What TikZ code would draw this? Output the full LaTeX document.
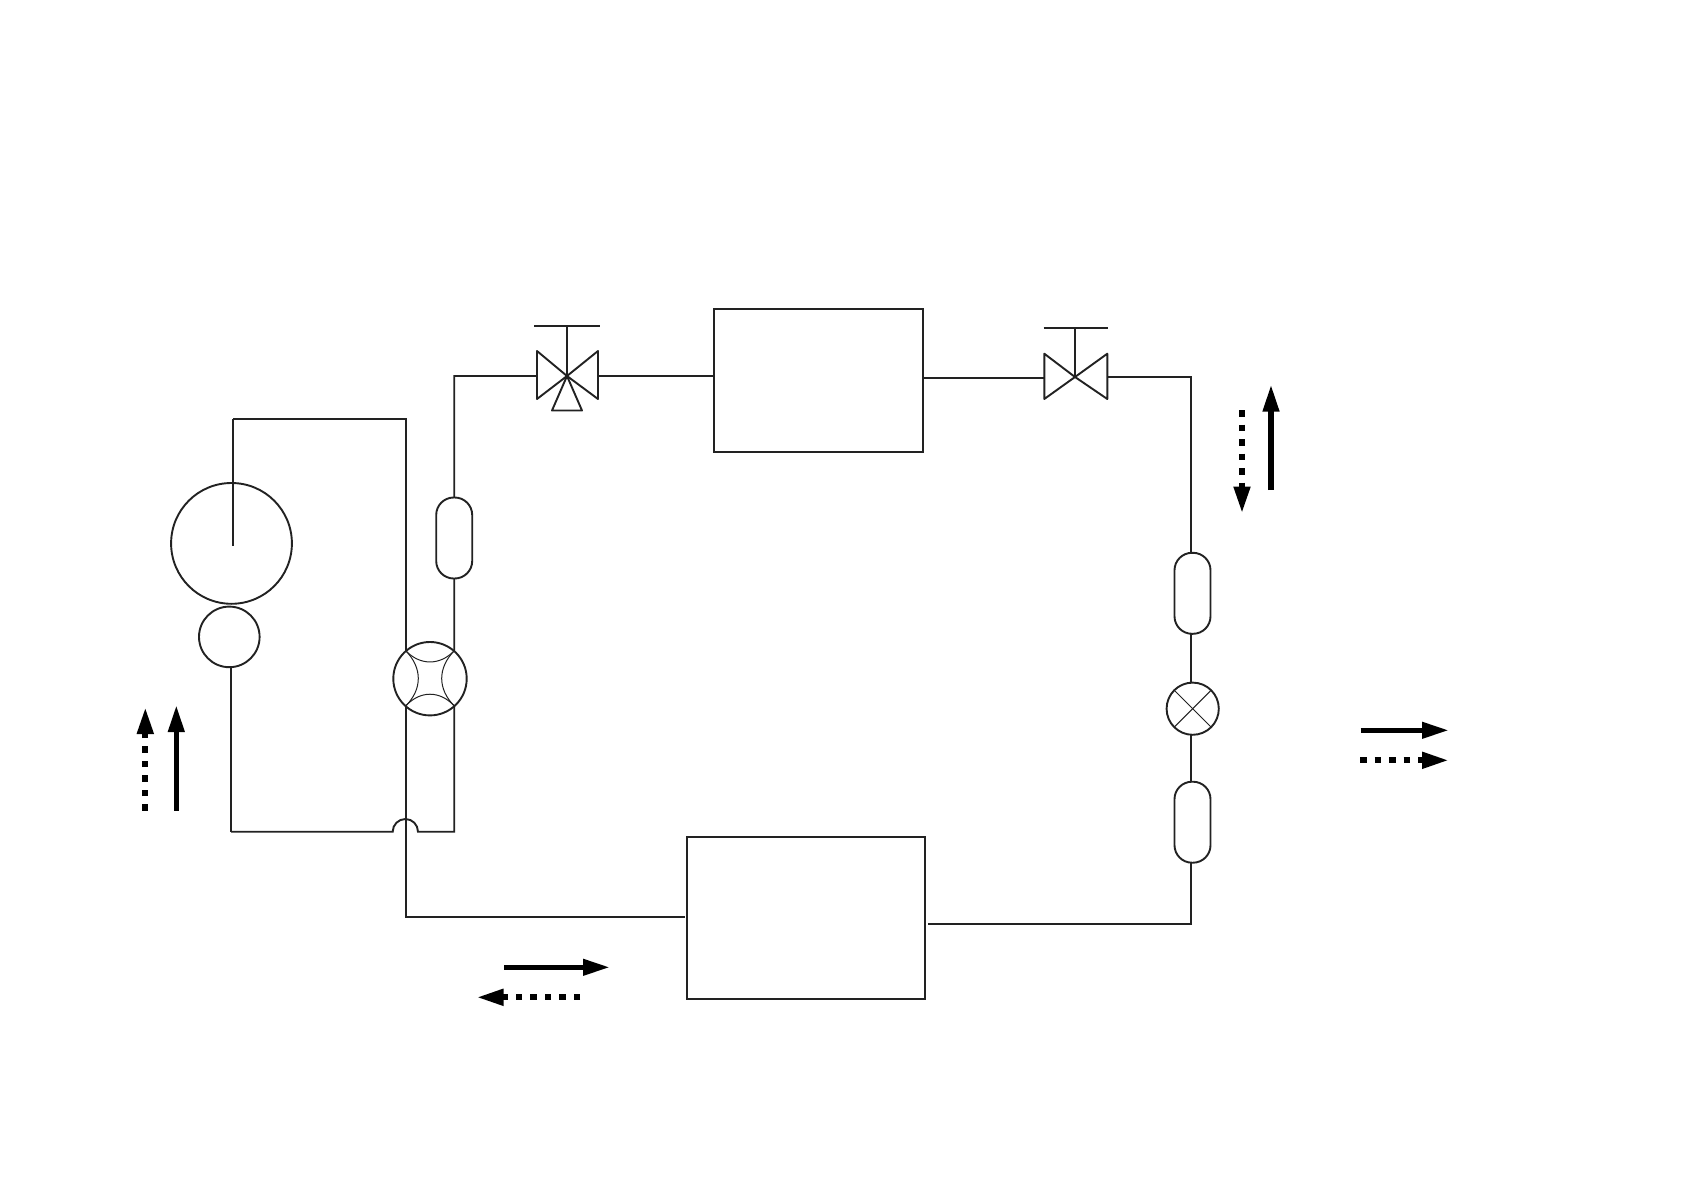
\documentclass[tikz,border=0pt]{standalone}
\usetikzlibrary{arrows.meta}
\definecolor{ink}{HTML}{222222}
\tikzset{
  pipe/.style={draw=ink,line width=1.9pt,line join=miter},
  thinpipe/.style={draw=ink,line width=1pt},
  unitbox/.style={draw=ink,line width=1.9pt,rectangle,inner sep=0pt,outer sep=0pt},
  capsule/.style={draw=ink,fill=white,line width=1.9pt,rectangle,rounded corners=17.5pt,inner sep=0pt,outer sep=0pt,minimum width=36pt,minimum height=81pt},
  ring/.style={draw=ink,fill=white,line width=1.9pt,circle,inner sep=0pt,outer sep=0pt},
  flow/.style={line width=5.5pt,-{Triangle[length=27pt,width=15.5pt]},black},
  flowdot/.style={line width=6pt,dash pattern=on 6.5pt off 8pt,-{Triangle[length=27pt,width=15.5pt]},black}
}
\begin{document}
\begin{tikzpicture}[x=1pt,y=-1pt]
\useasboundingbox (0,0) rectangle (1684,1190);
\fill[white] (0,0) rectangle (1684,1190);

% units
\node[unitbox,minimum width=208.4pt,minimum height=143pt] (topbox) at (818.4,380.5) {};
\node[unitbox,minimum width=237.3pt,minimum height=162.2pt] (botbox) at (806,917.7) {};

% anchor coordinates
\coordinate (v1) at (567,376);
\coordinate (v2) at (1075,377);
\coordinate (fw) at (430,678.7);
\coordinate (c1) at (454.2,538);
\coordinate (c2) at (1192.5,593.3);
\coordinate (c3) at (1192.5,822.2);
\coordinate (ev) at (1192.7,708.7);
\coordinate (v1L) at (537,376);
\coordinate (v1R) at (598,376);
\coordinate (v2L) at (1044.3,378);
\coordinate (v2R) at (1107.3,377.3);
\coordinate (crnA) at (454.2,376);
\coordinate (crnB) at (1191,377.3);
\coordinate (crnC) at (1191,923.6);
\coordinate (crnD) at (454.2,831.7);
\coordinate (crnE) at (231,831.7);
\coordinate (crnF) at (233,419);
\coordinate (crnG) at (405.7,419);
\coordinate (crnH) at (405.7,916.6);
\coordinate (hopL) at (392.7,831.7);
\coordinate (hopR) at (418,831.7);
\coordinate (drop) at (233,545.6);
\coordinate (botin) at (684.7,916.6);
\coordinate (botout) at (928,923.6);

% pipes
\draw[pipe] (crnF) -- (crnG) -- (crnH) -- (botin);
\draw[pipe] (v1R) -- (topbox.west |- v1R);
\draw[pipe] (topbox.east |- v2L) -- (v2L);
\draw[pipe] (v2R) -- (crnB) -- (crnC) -- (botout);
\draw[pipe] (v1L) -- (crnA) -- (crnD) -- (hopR)
  .. controls (418,824.7) and (412.4,819) .. (405.4,819)
  .. controls (398.4,819) and (392.7,824.7) .. (hopL) -- (crnE);

% compressor and separator
\node[ring,minimum size=120.8pt] (comp) at (231.5,543.4) {};
\node[ring,minimum size=60.6pt] (sep) at (229.3,636.9) {};
\draw[pipe] (drop) -- (crnF);
\draw[pipe] (sep.south -| crnE) -- (crnE);

% capsules
\node[capsule] (cap1) at (c1) {};
\node[capsule] (cap2) at (c2) {};
\node[capsule] (cap3) at (c3) {};

% four-way valve
\node[ring,minimum size=73.4pt] (four) at (fw) {};
\draw[thinpipe] (405.7,650.7) .. controls (420,665.7) and (440,665.7) .. (454.3,650.7);
\draw[thinpipe] (405.7,706) .. controls (420,690.3) and (440,690.3) .. (454.3,706);
\draw[thinpipe] (405.7,650.7) .. controls (422.5,668) and (422.5,689) .. (405.7,706);
\draw[thinpipe] (454.3,650.7) .. controls (437.5,668) and (437.5,689) .. (454.3,706);

% expansion valve
\node[ring,minimum size=52.2pt] (exp) at (ev) {};
\draw[thinpipe] (exp.45) -- (exp.225);
\draw[thinpipe] (exp.135) -- (exp.315);

% three-way valve
\draw[pipe,line join=round] (v1) -- (537,351) -- (537,399) -- cycle;
\draw[pipe,line join=round] (v1) -- (598,351) -- (598,399) -- cycle;
\draw[pipe,line join=round] (v1) -- (582,410.5) -- (552,410.5) -- cycle;
\draw[pipe] (v1) -- (567,325.7);
\draw[pipe] (534,325.7) -- (600,325.7);

% two-way valve
\draw[pipe,line join=round] (v2) -- (1044.3,353.7) -- (1044.3,399) -- cycle;
\draw[pipe,line join=round] (v2) -- (1107.3,353.7) -- (1107.3,399) -- cycle;
\draw[pipe] (v2) -- (1075,327.7);
\draw[pipe] (1043.7,327.7) -- (1108.3,327.7);

% flow arrows
\coordinate (a1s) at (1271,490);   \coordinate (a1e) at (1271,384.5);
\coordinate (a2s) at (1242,410);   \coordinate (a2e) at (1242,513.5);
\coordinate (a3s) at (1360.7,730.3); \coordinate (a3e) at (1449,730.3);
\coordinate (a4s) at (1360,760.3); \coordinate (a4e) at (1449,760.3);
\coordinate (a5s) at (176.3,810.7); \coordinate (a5e) at (176.3,705);
\coordinate (a6s) at (145.3,810.7); \coordinate (a6e) at (145.3,707);
\coordinate (a7s) at (504,967.3);  \coordinate (a7e) at (610,967.3);
\coordinate (a8s) at (580,997.3);  \coordinate (a8e) at (476.5,997.3);
\draw[flow] (a1s) -- (a1e);
\draw[flowdot] (a2s) -- (a2e);
\draw[flow] (a3s) -- (a3e);
\draw[flowdot] (a4s) -- (a4e);
\draw[flow] (a5s) -- (a5e);
\draw[flowdot] (a6s) -- (a6e);
\draw[flow] (a7s) -- (a7e);
\draw[flowdot] (a8s) -- (a8e);
\end{tikzpicture}
\end{document}
